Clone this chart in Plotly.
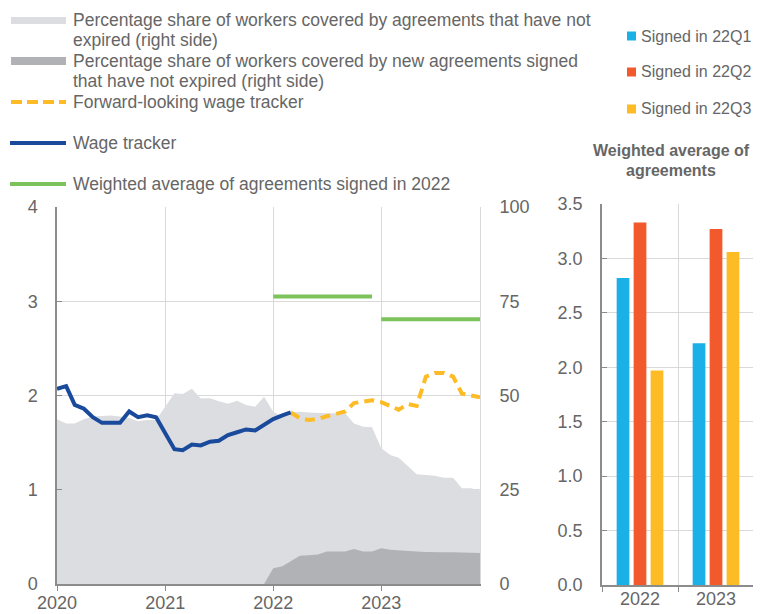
import pandas as pd
import plotly.graph_objects as go

# ---------------- data ----------------
months = pd.date_range("2020-01-01", "2023-12-01", freq="MS")

share_not_expired = [
    43.7, 42.6, 42.6, 43.7, 44.4, 44.6, 44.7, 44.4, 44.0, 43.2, 43.5, 43.5,
    47.0, 50.6, 50.4, 51.8, 49.2, 49.3, 48.5, 47.8, 48.6, 47.5, 47.0, 49.7,
    45.7, 44.4, 45.5, 45.7, 45.5, 45.3, 45.3, 45.3, 45.3, 42.6, 41.7, 41.6,
    36.0, 34.2, 33.5, 31.3, 29.1, 28.9, 28.7, 28.2, 28.2, 25.4, 25.4, 24.8,
]
new_share_start = "2021-12-01"
share_new_signed = [
    0.0,
    4.2, 4.7, 6.0, 7.5, 7.6, 7.8, 8.6, 8.6, 8.6, 9.3, 8.6, 8.6,
    9.5, 9.1, 8.9, 8.8, 8.6, 8.5, 8.4, 8.4, 8.4, 8.4, 8.3, 8.2,
]
wage_tracker = [
    2.07, 2.10, 1.90, 1.86, 1.77, 1.71, 1.71, 1.71, 1.83, 1.77, 1.79, 1.77,
    1.60, 1.43, 1.42, 1.48, 1.47, 1.51, 1.52, 1.58, 1.61, 1.64, 1.63, 1.69,
    1.75, 1.79, 1.82,
]
forward_start = "2022-03-01"
forward_tracker = [
    1.82, 1.76, 1.74, 1.75, 1.78, 1.80, 1.83, 1.92, 1.93, 1.95,
    1.93, 1.89, 1.85, 1.91, 1.89, 2.20, 2.24, 2.24, 2.20, 2.02, 2.00, 1.98,
]
weighted_years = [2022, 2023]
weighted_values = [3.05, 2.81]

bar_categories = ["2022", "2023"]
signed_22q1 = [2.82, 2.22]
signed_22q2 = [3.33, 3.27]
signed_22q3 = [1.97, 3.06]

left_ticks = [0, 1, 2, 3, 4]
right_ticks = [0, 25, 50, 75, 100]
year_tickvals = ["2020-01-01", "2021-01-01", "2022-01-01", "2023-01-01"]
year_ticktext = ["2020", "2021", "2022", "2023"]
bar_ticks = [0, 0.5, 1.0, 1.5, 2.0, 2.5, 3.0, 3.5]

# ---------------- styles ----------------
OFF = 8                      # page body offset
W, H = 761 - OFF, 614 - OFF  # figure fits the window
FONT = "Liberation Sans, Arial, sans-serif"
TXT = "#666666"
GRID = "#d9d9d9"
AXL = "#8c8c8c"
LIGHT = "#dcdde0"
DARK = "#b1b2b6"
BLUE = "#1a4a9c"
YEL = "#fdbb25"
GREEN = "#7dc35b"
C1, C2, C3 = "#1bb1e6", "#f2592c", "#fdbb25"


def px(x):
    return (x - OFF) / W


def py(y):
    return 1 - (y - OFF) / H


fig = go.Figure()

# areas on primary (right-side 0-100) axis
fig.add_trace(go.Scatter(x=months, y=share_not_expired, mode="lines", line=dict(width=0, color=LIGHT),
                         fill="tozeroy", fillcolor=LIGHT, xaxis="x", yaxis="y", showlegend=False,
                         hoverinfo="skip"))
new_months = pd.date_range(new_share_start, periods=len(share_new_signed), freq="MS")
fig.add_trace(go.Scatter(x=new_months, y=share_new_signed, mode="lines", line=dict(width=0, color=DARK),
                         fill="tozeroy", fillcolor=DARK, xaxis="x", yaxis="y", showlegend=False,
                         hoverinfo="skip"))

# lines on overlay (left-side 0-4) axis
for yr, val in zip(weighted_years, weighted_values):
    fig.add_trace(go.Scatter(x=[f"{yr}-01-01", f"{yr}-12-01"], y=[val, val], mode="lines",
                             line=dict(color=GREEN, width=4), xaxis="x", yaxis="y2", showlegend=False))
fwd_months = pd.date_range(forward_start, periods=len(forward_tracker), freq="MS")
fig.add_trace(go.Scatter(x=fwd_months, y=forward_tracker, mode="lines",
                         line=dict(color=YEL, width=4, dash="10px,6px"), xaxis="x", yaxis="y2",
                         showlegend=False))
fig.add_trace(go.Scatter(x=months[:len(wage_tracker)], y=wage_tracker, mode="lines",
                         line=dict(color=BLUE, width=4), xaxis="x", yaxis="y2", showlegend=False))

# bars
for name, vals, col in [("Signed in 22Q1", signed_22q1, C1), ("Signed in 22Q2", signed_22q2, C2),
                        ("Signed in 22Q3", signed_22q3, C3)]:
    fig.add_trace(go.Bar(x=bar_categories, y=vals, name=name, marker=dict(color=col, line=dict(width=0)),
                         xaxis="x3", yaxis="y3", showlegend=False))

left_dom_x = [px(57), px(480)]
left_dom_y = [py(584), py(207)]
right_dom_x = [px(602), px(754)]
right_dom_y = [py(585), py(204)]

tickfont = dict(family=FONT, size=18, color=TXT)

fig.update_layout(
    width=W, height=H, autosize=False,
    margin=dict(l=0, r=0, t=0, b=0, pad=0, autoexpand=False),
    paper_bgcolor="white", plot_bgcolor="white",
    font=dict(family=FONT, color=TXT),
    barmode="group", bargap=0.33, bargroupgap=0.25,
    xaxis=dict(domain=left_dom_x, anchor="y", type="date", automargin=False,
               range=["2020-01-01", "2023-12-01"],
               tickvals=year_tickvals, ticktext=year_ticktext,
               ticks="outside", ticklen=5, tickcolor=AXL,
               showline=True, linecolor=AXL, linewidth=1.5,
               showgrid=True, gridcolor=GRID, zeroline=False, tickfont=tickfont,
               ticklabelstandoff=-3),
    yaxis=dict(domain=left_dom_y, anchor="x", side="right", range=[0, 100], automargin=False,
               tickvals=right_ticks, ticks="", showline=True, linecolor=GRID,
               showgrid=True, gridcolor=GRID, zeroline=False, tickfont=tickfont,
               ticklabelstandoff=15),
    yaxis2=dict(overlaying="y", anchor="x", side="left", range=[0, 4], automargin=False,
                tickvals=left_ticks, ticks="inside", ticklen=5, tickcolor=AXL,
                showline=True, linecolor=AXL, linewidth=1.5,
                showgrid=False, zeroline=False, tickfont=tickfont, ticklabelstandoff=14),
    xaxis3=dict(domain=right_dom_x, anchor="y3", type="category", automargin=False,
                tickson="boundaries", ticks="outside", ticklen=5, tickcolor=AXL,
                showline=True, linecolor=AXL, linewidth=1.5,
                showgrid=True, gridcolor=GRID, tickfont=tickfont, ticklabelstandoff=-3),
    yaxis3=dict(domain=right_dom_y, anchor="x3", range=[0, 3.5], automargin=False,
                tickvals=bar_ticks, tickformat=".1f", ticks="inside", ticklen=5, tickcolor=AXL,
                showline=True, linecolor=AXL, linewidth=1.5,
                showgrid=True, gridcolor=GRID, zeroline=False, tickfont=tickfont,
                ticklabelstandoff=14),
)

# ---------------- manual legends ----------------
shapes = []
annos = []
LFS = 17.5


def text(x, y, s, size=LFS, bold=False, anchor="left"):
    annos.append(dict(x=px(x), y=py(y), xref="paper", yref="paper", text=f"<b>{s}</b>" if bold else s,
                      showarrow=False, xanchor=anchor, yanchor="middle",
                      font=dict(family=FONT, size=size, color=TXT)))


# left legend
shapes.append(dict(type="rect", xref="paper", yref="paper", x0=px(11), x1=px(66), y0=py(24), y1=py(17),
                   fillcolor=LIGHT, line=dict(width=0)))
text(71, 20, "Percentage share of workers covered by agreements that have not")
text(71, 40, "expired (right side)")
shapes.append(dict(type="rect", xref="paper", yref="paper", x0=px(11), x1=px(66), y0=py(65), y1=py(57),
                   fillcolor=DARK, line=dict(width=0)))
text(71, 61, "Percentage share of workers covered by new agreements signed")
text(71, 81, "that have not expired (right side)")
shapes.append(dict(type="line", xref="paper", yref="paper", x0=px(11), x1=px(66), y0=py(102), y1=py(102),
                   line=dict(color=YEL, width=4, dash="11px,5px")))
text(71, 102, "Forward-looking wage tracker")
shapes.append(dict(type="line", xref="paper", yref="paper", x0=px(10), x1=px(66), y0=py(143), y1=py(143),
                   line=dict(color=BLUE, width=4)))
text(71, 143, "Wage tracker")
shapes.append(dict(type="line", xref="paper", yref="paper", x0=px(10), x1=px(66), y0=py(184), y1=py(184),
                   line=dict(color=GREEN, width=4)))
text(71, 184, "Weighted average of agreements signed in 2022")

# right legend
for yy, lab, col in [(36, "Signed in 22Q1", C1), (72, "Signed in 22Q2", C2), (109, "Signed in 22Q3", C3)]:
    shapes.append(dict(type="rect", xref="paper", yref="paper", x0=px(627), x1=px(636),
                       y0=py(yy + 4.5), y1=py(yy - 4.5), fillcolor=col, line=dict(width=0)))
    text(639, yy, lab, size=16)

text(671, 150, "Weighted average of", size=16, bold=True, anchor="center")
text(671, 170, "agreements", size=16, bold=True, anchor="center")

fig.update_layout(shapes=shapes, annotations=annos)

fig.write_html("out.html")
